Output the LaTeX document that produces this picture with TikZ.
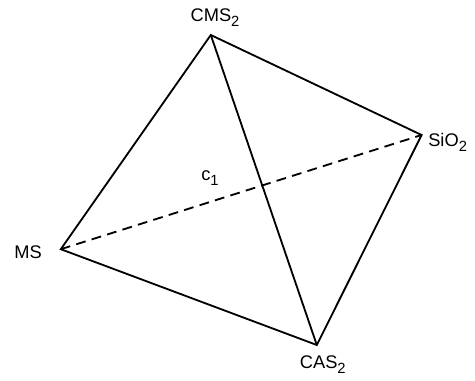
\documentclass[tikz,border=0pt]{standalone}
\usepackage{fontspec}
\setmainfont{Liberation Sans}
\newcommand{\lowsub}[1]{\raisebox{-0.5ex}{\fontsize{10.5}{12}\selectfont #1}}
\begin{document}
\begin{tikzpicture}[font=\fontsize{13}{15}\selectfont, edge/.style={line width=1.3pt, line join=miter}]
\useasboundingbox (0,0) rectangle (11.875,9.5);
\coordinate (CMS) at (5.27,8.625);
\coordinate (SiO) at (10.54,6.125);
\coordinate (MS) at (1.52,3.27);
\coordinate (CAS) at (7.92,0.875);
\node (lCMS) at (5.375,9.05) {CMS\lowsub{2}};
\node[anchor=west, inner sep=0pt] (lSiO) at (10.7,5.95) {SiO\lowsub{2}};
\node[anchor=east, inner sep=0pt] (lMS) at (1.05,3.2) {MS};
\node (lCAS) at (8.07,0.38) {CAS\lowsub{2}};
\node (c1) at (5.25,5.05) {c\lowsub{1}};
\draw[edge] (MS) -- (CMS) -- (SiO) -- (CAS) -- cycle;
\draw[edge] (CMS) -- (CAS);
\draw[edge, dash pattern=on 7pt off 4.5pt] (MS) -- (SiO);
\end{tikzpicture}
\end{document}
